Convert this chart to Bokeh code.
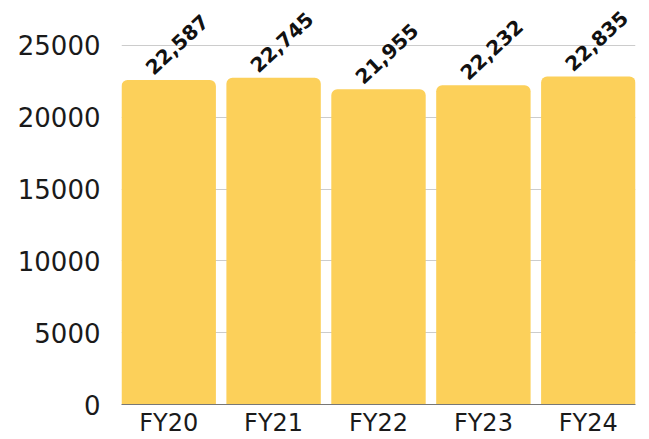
from bokeh.plotting import figure
from bokeh.models import ColumnDataSource, LabelSet, FixedTicker, Range1d
from bokeh.core.properties import value
from bokeh.embed import file_html
from bokeh.resources import INLINE

categories = ["FY20", "FY21", "FY22", "FY23", "FY24"]
values = [22587, 22745, 21955, 22232, 22835]
value_labels = ["22,587", "22,745", "21,955", "22,232", "22,835"]
y_ticks = [0, 5000, 10000, 15000, 20000, 25000]

xs = list(range(len(categories)))
src = ColumnDataSource(dict(x=xs, top=values, label=value_labels))

p = figure(width=649, height=439, output_backend="svg", toolbar_location=None,
           x_range=Range1d(-0.45, 4.45), y_range=Range1d(0, 28125),
           min_border_left=121, min_border_right=14, min_border_top=0,
           min_border_bottom=34)
p.outline_line_color = None
p.background_fill_color = "white"
p.border_fill_color = "white"

p.vbar(x="x", top="top", width=0.9, source=src, fill_color="#FCD05A",
       line_color=None, border_radius=(6, 6, 0, 0))

labels = LabelSet(x="x", y="top", text="label", source=src, angle=43,
                  angle_units="deg", x_offset=-15, y_offset=4,
                  text_font=value("DejaVu Sans"), text_font_size=value("20px"),
                  text_font_style="bold",
                  text_color="#111111", text_align="left",
                  text_baseline="alphabetic")
p.add_layout(labels)

p.yaxis.ticker = FixedTicker(ticks=y_ticks)
p.ygrid.ticker = FixedTicker(ticks=y_ticks)
p.yaxis.axis_line_color = None
p.yaxis.major_tick_line_color = None
p.yaxis.minor_tick_line_color = None
p.yaxis.major_tick_out = 0
p.yaxis.major_label_standoff = 21
p.yaxis.major_label_text_font = "DejaVu Sans"
p.yaxis.major_label_text_font_size = "26px"
p.yaxis.major_label_text_color = "#1a1a1a"

p.xaxis.ticker = FixedTicker(ticks=xs)
p.xaxis.major_label_overrides = {i: c for i, c in zip(xs, categories)}
p.xaxis.axis_line_color = "#777777"
p.xaxis.axis_line_width = 1
p.xaxis.major_tick_line_color = None
p.xaxis.minor_tick_line_color = None
p.xaxis.major_tick_out = 0
p.xaxis.major_tick_in = 0
p.xaxis.major_label_standoff = 4
p.xaxis.major_label_text_font = "DejaVu Sans"
p.xaxis.major_label_text_font_size = "24px"
p.xaxis.major_label_text_color = "#1a1a1a"

p.xgrid.visible = False
p.ygrid.grid_line_color = "#cccccc"
p.ygrid.grid_line_width = 1

open("out.html", "w").write(file_html(p, INLINE))
